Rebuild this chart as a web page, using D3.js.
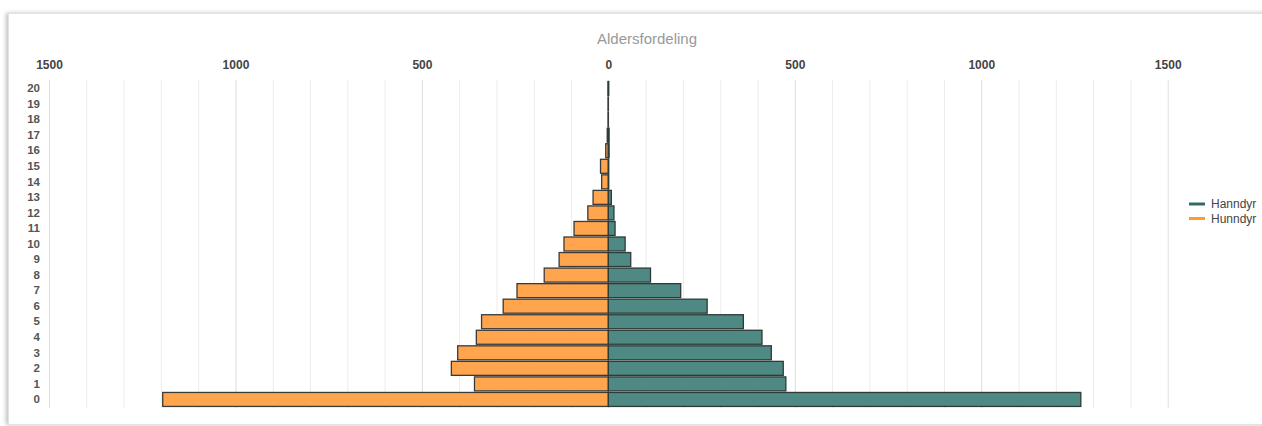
<!DOCTYPE html>
<html>
<head>
<meta charset="utf-8">
<script src="https://cdn.jsdelivr.net/npm/d3@7"></script>
<style>
  body { margin: 0; background: #fff; font-family: "Liberation Sans", Arial, sans-serif; overflow: hidden; }
</style>
</head>
<body>
<div id="chart-area"></div>
<script>
// data
var ages = [0, 1, 2, 3, 4, 5, 6, 7, 8, 9, 10, 11, 12, 13, 14, 15, 16, 17, 18, 19, 20]
var hanndyr = [1267, 476, 469, 437, 412, 362, 265, 194, 113, 60, 45, 18, 15, 8, 1, 1, 2, 2, 0, 0, 1]
var hunndyr = [1195, 359, 421, 404, 354, 340, 282, 245, 172, 132, 119, 92, 55, 41, 18, 21, 7, 3, 1, 1, 1]
var xTicks = [-1500, -1000, -500, 0, 500, 1000, 1500]
var seriesNames = ['Hanndyr', 'Hunndyr']
var seriesColors = ['#2f6b63', '#ff9a33']

var W = 1262, H = 426
var svg = d3.select('#chart-area').append('svg')
  .attr('width', W)
  .attr('height', H)

// card with soft shadow
var defs = svg.append('defs')
var f = defs.append('filter').attr('id', 'shadow')
  .attr('x', '-5%').attr('y', '-5%').attr('width', '110%').attr('height', '110%')
f.append('feDropShadow').attr('dx', -2).attr('dy', 0).attr('stdDeviation', 2)
  .attr('flood-color', '#000').attr('flood-opacity', 0.25)

svg.append('rect')
  .attr('x', 8.5).attr('y', 13.5)
  .attr('width', 1270).attr('height', 411)
  .attr('fill', '#fff')
  .attr('stroke', '#e2e2e2')
  .attr('filter', 'url(#shadow)')

// scales
var x = d3.scaleLinear().domain([-1500, 1500]).range([49, 1167.7])
var y = d3.scaleBand().domain(ages.slice().reverse()).range([80, 408]).padding(0.1)

var plot = svg.append('g')

// gridlines every 100
plot.selectAll('line.grid')
  .data(d3.range(-1500, 1501, 100))
  .enter()
  .append('line')
  .attr('class', 'grid')
  .attr('x1', function(d){ return x(d) + 0.5 })
  .attr('x2', function(d){ return x(d) + 0.5 })
  .attr('y1', 80).attr('y2', 408)
  .attr('stroke', function(d){ return d % 500 == 0 ? '#dedede' : '#ececec' })
  .attr('stroke-width', 1)

// top axis labels
var xAxis = d3.axisTop(x)
  .tickValues(xTicks)
  .tickSize(0)
  .tickFormat(function(d){ return Math.abs(d) })

var gx = svg.append('g')
  .attr('transform', 'translate(0,72)')
  .call(xAxis)
gx.select('.domain').remove()
gx.selectAll('text')
  .attr('font-family', '"Liberation Sans", Arial, sans-serif')
  .attr('font-size', '12px')
  .attr('font-weight', 'bold')
  .attr('fill', '#444')
  .attr('dy', 0)

// left axis labels
var yAxis = d3.axisLeft(y).tickSize(0)
var gy = svg.append('g')
  .attr('transform', 'translate(40,0)')
  .call(yAxis)
gy.select('.domain').remove()
gy.selectAll('text')
  .attr('font-family', '"Liberation Sans", Arial, sans-serif')
  .attr('font-size', '11.5px')
  .attr('font-weight', 'bold')
  .attr('fill', '#555')
  .attr('x', 0)

// Hunndyr bars (left)
plot.selectAll('rect.hunn')
  .data(ages)
  .enter()
  .append('rect')
  .attr('class', 'hunn')
  .attr('x', function(d, i){ return x(-hunndyr[i]) })
  .attr('y', function(d){ return y(d) })
  .attr('width', function(d, i){ return x(0) - x(-hunndyr[i]) })
  .attr('height', y.bandwidth())
  .attr('fill', '#ffa54d')
  .attr('stroke', '#3a3a3a')
  .attr('stroke-width', 1.3)

// Hanndyr bars (right)
plot.selectAll('rect.hann')
  .data(ages)
  .enter()
  .append('rect')
  .attr('class', 'hann')
  .attr('x', x(0))
  .attr('y', function(d){ return y(d) })
  .attr('width', function(d, i){ return x(hanndyr[i]) - x(0) })
  .attr('height', y.bandwidth())
  .attr('fill', '#4e8a83')
  .attr('stroke', '#2e3a38')
  .attr('stroke-width', 1.3)

// title
svg.append('text')
  .attr('x', 647)
  .attr('y', 44)
  .attr('text-anchor', 'middle')
  .attr('font-size', '15px')
  .attr('fill', '#999')
  .text('Aldersfordeling')

// legend
var legend = svg.append('g').attr('transform', 'translate(1189,204)')
legend.selectAll('line')
  .data(seriesNames)
  .enter()
  .append('line')
  .attr('x1', 0).attr('x2', 16)
  .attr('y1', function(d, i){ return i * 14.5 })
  .attr('y2', function(d, i){ return i * 14.5 })
  .attr('stroke', function(d, i){ return seriesColors[i] })
  .attr('stroke-width', 3)

legend.selectAll('text')
  .data(seriesNames)
  .enter()
  .append('text')
  .attr('x', 22)
  .attr('y', function(d, i){ return i * 14.5 + 4 })
  .attr('font-size', '12px')
  .attr('fill', '#444')
  .text(function(d){ return d })
</script>
</body>
</html>
